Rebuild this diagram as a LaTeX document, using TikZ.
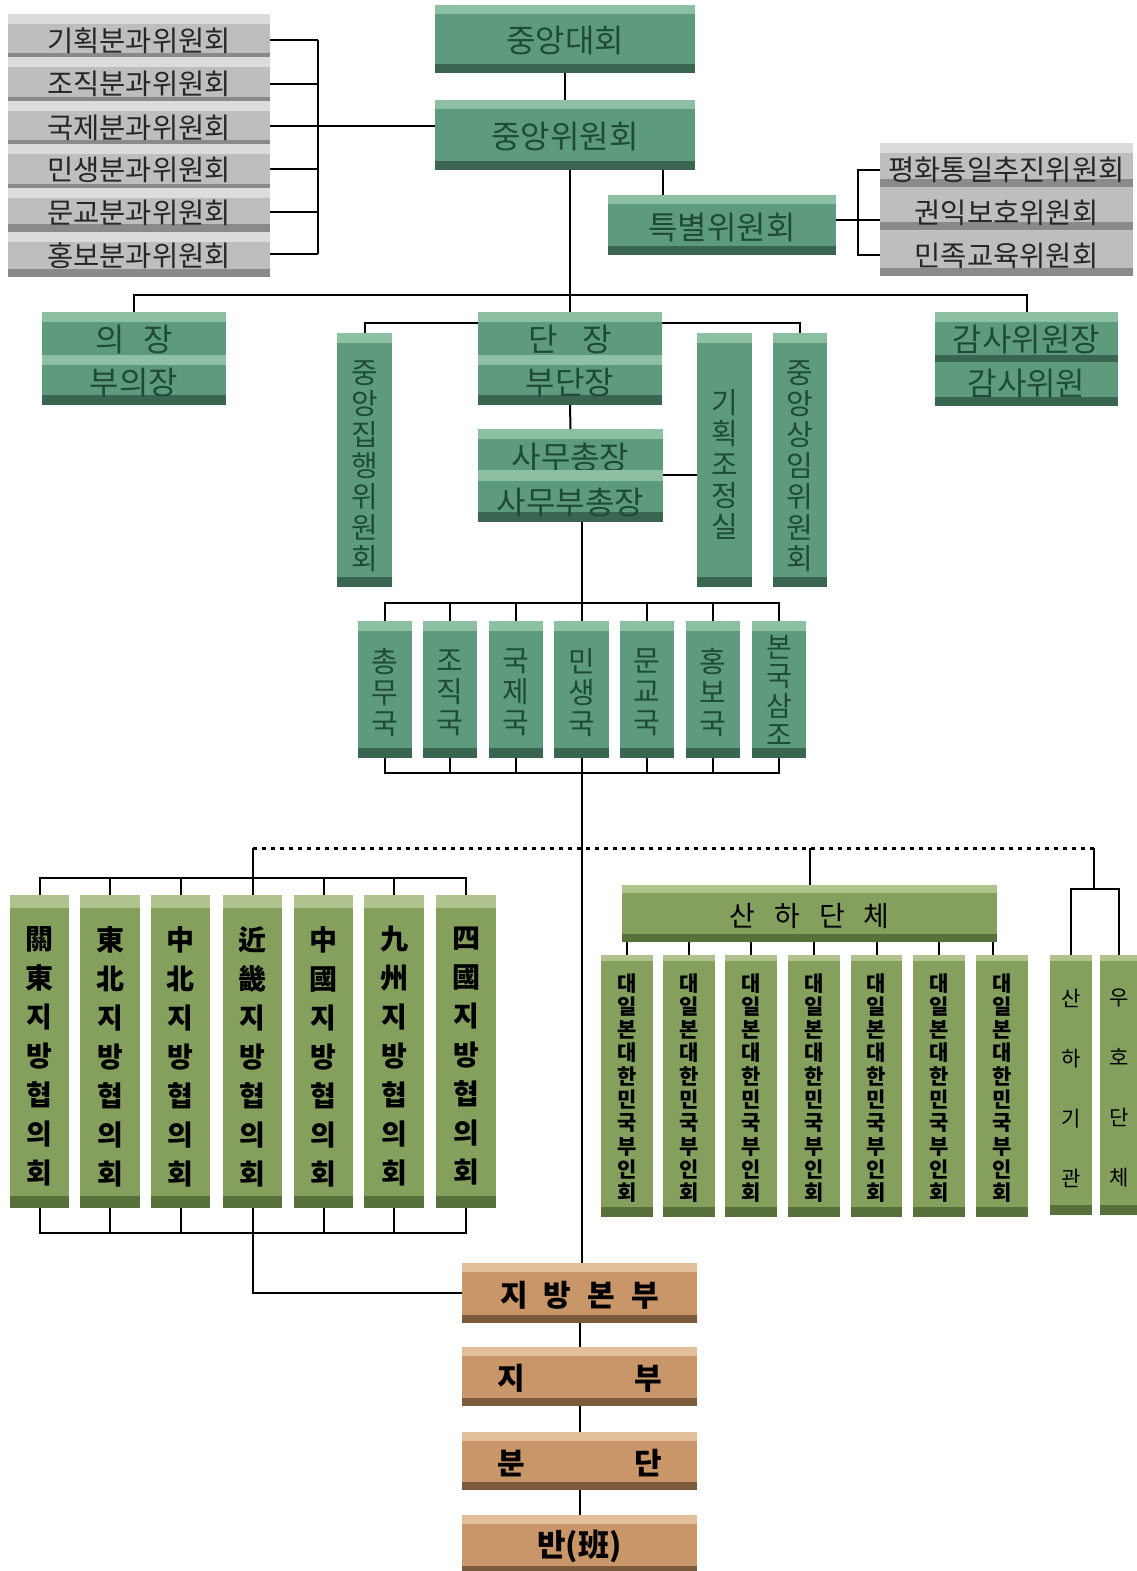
\documentclass[tikz,border=0pt]{standalone}
\usepackage{fontspec}
\newfontfamily\kr{Noto Sans CJK KR}
\usetikzlibrary{calc}
\definecolor{gbody}{HTML}{5E9B7E}
\definecolor{gtop}{HTML}{8DBFA3}
\definecolor{gbot}{HTML}{3A6651}
\definecolor{gtext}{HTML}{1F4A36}
\definecolor{ybody}{HTML}{BEBEBE}
\definecolor{ytop}{HTML}{DCDCDC}
\definecolor{ybot}{HTML}{8A8A8A}
\definecolor{obody}{HTML}{859F5D}
\definecolor{otop}{HTML}{B0C38E}
\definecolor{obot}{HTML}{58703C}
\definecolor{tbody}{HTML}{C89668}
\definecolor{ttop}{HTML}{E3C09A}
\definecolor{tbot}{HTML}{7B5B3B}
\def\tbh{10pt}\def\bbh{10pt}
\tikzset{
  topband/.code={\def\tbh{#1}},
  botband/.code={\def\bbh{#1}},
  tbox/.style={rectangle, inner sep=0pt, outer sep=0pt, fill=#1body,
    path picture={
      \fill[#1top] (path picture bounding box.north west) rectangle ([yshift=-\tbh]path picture bounding box.north east);
      \fill[#1bot] (path picture bounding box.south west) rectangle ([yshift=\bbh]path picture bounding box.south east);}},
  gb/.style={tbox=g},
  yb/.style={tbox=y},
  ob/.style={tbox=o},
  tb/.style={tbox=t, topband=9pt, botband=8pt},
  dn/.style={yshift=-#1pt},
  lbl/.style={inner sep=0pt, align=center},
  gt/.style={lbl, text=gtext, font=\kr\fontsize{32}{36}\selectfont},
  gvt/.style={lbl, text=gtext, font=\kr\fontsize{29}{31}\selectfont},
  yt/.style={lbl, text=black!85, font=\kr\fontsize{28.5}{32}\selectfont},
  ot/.style={lbl, text=black, font=\kr\bfseries\fontsize{28}{39}\selectfont},
  owt/.style={lbl, text=black, font=\kr\bfseries\fontsize{21}{23.3}\selectfont},
  ost/.style={lbl, text=black, font=\kr\fontsize{21}{60}\selectfont},
  tt/.style={lbl, text=black, font=\kr\bfseries\fontsize{30}{34}\selectfont},
  conn/.style={draw=black, line width=2pt},
  dotline/.style={draw=black, line width=3pt, dash pattern=on 4pt off 5pt},
}
% box: style, name, x1, y1, x2, y2, text style, text
\newcommand\bx[8]{%
  \node[#1, minimum width={(#5)-(#3)}, minimum height={(#6)-(#4)}] (#2) at ({((#3)+(#5))/2},{((#4)+(#6))/2}) {};
  \node[#7] (#2t) at (#2.center) {#8};}
\begin{document}
\begin{tikzpicture}[x=1pt, y=-1pt]
\useasboundingbox[fill=white] (0,0) rectangle (1136,1571);
% left grey committees
\bx{yb, topband=10pt, botband=4pt}{k1}{8}{14}{270}{57}{yt, dn=5}{기획분과위원회}
\bx{yb, topband=10pt, botband=4pt}{k2}{8}{57}{270}{101}{yt, dn=5}{조직분과위원회}
\bx{yb, topband=10pt, botband=4pt}{k3}{8}{101}{270}{144}{yt, dn=5}{국제분과위원회}
\bx{yb, topband=10pt, botband=4pt}{k4}{8}{144}{270}{188}{yt, dn=4}{민생분과위원회}
\bx{yb, topband=10pt, botband=8pt}{k5}{8}{188}{270}{232}{yt, dn=3}{문교분과위원회}
\bx{yb, topband=10pt, botband=8pt}{k6}{8}{232}{270}{277}{yt, dn=1}{홍보분과위원회}
% top green
\bx{gb, topband=9pt, botband=9pt}{cd}{435}{5}{695}{73}{gt, dn=2}{중앙대회}
\bx{gb, topband=9pt, botband=9pt}{cw}{435}{100}{695}{170}{gt, dn=2}{중앙위원회}
\bx{gb, topband=9pt, botband=9pt}{sp}{608}{195}{836}{255}{gt, dn=3}{특별위원회}
% right grey
\bx{yb, topband=10pt, botband=8pt}{r1}{880}{143}{1133}{187}{yt, dn=5}{평화통일추진위원회}
\bx{yb, topband=0pt, botband=8pt}{r2}{880}{187}{1133}{230}{yt, dn=4}{권익보호위원회}
\bx{yb, topband=0pt, botband=8pt}{r3}{880}{230}{1133}{276}{yt, dn=3}{민족교육위원회}
% chair rows
\bx{gb, topband=10pt, botband=0pt}{uj1}{42}{312}{226}{355}{gt, dn=6}{의\hspace{19pt}장}
\bx{gb, topband=10pt, botband=10pt}{uj2}{42}{355}{226}{405}{gt, dn=3}{부의장}
\bx{gb, topband=10pt, botband=0pt}{dj1}{478}{312}{662}{355}{gt, dn=6}{단\hspace{25pt}장}
\bx{gb, topband=10pt, botband=10pt}{dj2}{478}{355}{662}{405}{gt, dn=3}{부단장}
\bx{gb, topband=10pt, botband=7pt}{gs1}{935}{312}{1118}{362}{gt, dn=3}{감사위원장}
\bx{gb, topband=0pt, botband=9pt}{gs2}{935}{362}{1118}{406}{gt, dn=0}{감사위원}
% vertical green
\bx{gb}{jh}{337}{333}{392}{587}{gvt, dn=6}{중\\앙\\집\\행\\위\\원\\회}
\bx{gb}{gj}{697}{333}{752}{587}{gvt, dn=4}{기\\획\\조\\정\\실}
\bx{gb}{sm}{773}{333}{827}{587}{gvt, dn=6}{중\\앙\\상\\임\\위\\원\\회}
\bx{gb, topband=10pt, botband=0pt}{sa1}{478}{429}{663}{470}{gt, dn=8}{사무총장}
\bx{gb, topband=11pt, botband=10pt}{sa2}{478}{470}{663}{522}{gt, dn=6}{사무부총장}
% departments
\bx{gb}{d1}{358}{621}{412}{758}{gvt, dn=3}{총\\무\\국}
\bx{gb}{d2}{423}{621}{477}{758}{gvt, dn=3}{조\\직\\국}
\bx{gb}{d3}{489}{621}{543}{758}{gvt, dn=3}{국\\제\\국}
\bx{gb}{d4}{554}{621}{609}{758}{gvt, dn=3}{민\\생\\국}
\bx{gb}{d5}{620}{621}{674}{758}{gvt, dn=3}{문\\교\\국}
\bx{gb}{d6}{686}{621}{740}{758}{gvt, dn=3}{홍\\보\\국}
\bx{gb}{d7}{752}{621}{806}{758}{gvt, font=\kr\fontsize{28}{29.5}\selectfont, dn=1}{본\\국\\삼\\조}
% regional councils
\bx{ob, topband=13pt, botband=12pt}{o1}{10}{895}{69}{1208}{ot, dn=5}{關\\東\\지\\방\\협\\의\\회}
\bx{ob, topband=13pt, botband=12pt}{o2}{80}{895}{140}{1208}{ot, dn=5}{東\\北\\지\\방\\협\\의\\회}
\bx{ob, topband=13pt, botband=12pt}{o3}{151}{895}{210}{1208}{ot, dn=5}{中\\北\\지\\방\\협\\의\\회}
\bx{ob, topband=13pt, botband=12pt}{o4}{223}{895}{282}{1208}{ot, dn=5}{近\\畿\\지\\방\\협\\의\\회}
\bx{ob, topband=13pt, botband=12pt}{o5}{294}{895}{353}{1208}{ot, dn=5}{中\\國\\지\\방\\협\\의\\회}
\bx{ob, topband=13pt, botband=12pt}{o6}{364}{895}{424}{1208}{ot, dn=5}{九\\州\\지\\방\\협\\의\\회}
\bx{ob, topband=13pt, botband=12pt}{o7}{436}{895}{496}{1208}{ot, dn=5}{四\\國\\지\\방\\협\\의\\회}
% affiliated
\bx{ob, topband=8pt, botband=8pt}{sh}{622}{885}{997}{942}{lbl, text=black, font=\kr\fontsize{28}{32}\selectfont, dn=3}{산\hspace{19pt}하\hspace{19pt}단\hspace{19pt}체}
\bx{ob, topband=6pt, botband=10pt}{w1}{601}{955}{653}{1217}{owt, dn=2}{대\\일\\본\\대\\한\\민\\국\\부\\인\\회}
\bx{ob, topband=6pt, botband=10pt}{w2}{663}{955}{715}{1217}{owt, dn=2}{대\\일\\본\\대\\한\\민\\국\\부\\인\\회}
\bx{ob, topband=6pt, botband=10pt}{w3}{725}{955}{777}{1217}{owt, dn=2}{대\\일\\본\\대\\한\\민\\국\\부\\인\\회}
\bx{ob, topband=6pt, botband=10pt}{w4}{788}{955}{840}{1217}{owt, dn=2}{대\\일\\본\\대\\한\\민\\국\\부\\인\\회}
\bx{ob, topband=6pt, botband=10pt}{w5}{851}{955}{902}{1217}{owt, dn=2}{대\\일\\본\\대\\한\\민\\국\\부\\인\\회}
\bx{ob, topband=6pt, botband=10pt}{w6}{913}{955}{965}{1217}{owt, dn=2}{대\\일\\본\\대\\한\\민\\국\\부\\인\\회}
\bx{ob, topband=6pt, botband=10pt}{w7}{976}{955}{1028}{1217}{owt, dn=2}{대\\일\\본\\대\\한\\민\\국\\부\\인\\회}
\bx{ob, topband=6pt, botband=10pt}{sg}{1050}{955}{1092}{1215}{ost, dn=3}{산\\하\\기\\관}
\bx{ob, topband=6pt, botband=10pt}{wh}{1100}{955}{1138}{1215}{ost, dn=3}{우\\호\\단\\체}
% local organisation
\bx{tb}{jb}{462}{1263}{697}{1323}{tt, dn=2}{지\hspace{16pt}방\hspace{16pt}본\hspace{16pt}부}
\bx{tb}{ju}{462}{1347}{697}{1406}{tt, dn=2}{지\hspace{109pt}부}
\bx{tb}{bd}{462}{1432}{697}{1490}{tt, dn=2}{분\hspace{109pt}단}
\bx{tb}{ban}{462}{1515}{697}{1574}{tt, font=\kr\bfseries\fontsize{31}{34}\selectfont, dn=2}{반(班)}
% ---------- connectors
\coordinate (ks) at (318,0);
\foreach \i/\yy in {1/40,2/84,3/126,4/169,5/212,6/254} {\draw[conn] (k\i.east |- 0,\yy) -- (ks |- 0,\yy);}
\draw[conn] (ks |- 0,40) -- (ks |- 0,254);
\draw[conn] (k3.east |- 0,126) -- (cw.west |- 0,126);
\draw[conn] (cd.south) -- (cw.north);
\coordinate (tx) at (663,0);
\draw[conn] (cw.south -| tx) -- (sp.north -| tx);
\coordinate (rs) at (858,0);
\draw[conn] (r1.west |- 0,170) -- (rs |- 0,170) -- (rs |- 0,255) -- (r3.west |- 0,255);
\draw[conn] (sp.east |- 0,220) -- (r2.west |- 0,220);
\coordinate (hb) at (0,295);
\draw[conn] (cw.south -| dj1.north) -- (dj1.north);
\draw[conn] (uj1.north) -- (uj1.north |- hb) -- (gs1.north |- hb) -- (gs1.north);
\coordinate (jy) at (0,323);
\draw[conn] (dj1.west |- jy) -| (jh.north);
\draw[conn] (dj1.east |- jy) -| (sm.north);
\draw[conn] (dj2.south) -- (sa1.north);
\coordinate (gy) at (0,475);
\draw[conn] (sa2.east |- gy) -- (gj.west |- gy);
\coordinate (dt) at (0,603);
\coordinate (db) at (0,773);
\draw[conn] (sa2.south -| d4.north) -- (d4.north);
\draw[conn] (d1.north) -- (d1.north |- dt) -- (d7.north |- dt) -- (d7.north);
\draw[conn] (d1.south) -- (d1.south |- db) -- (d7.south |- db) -- (d7.south);
\foreach \i in {2,3,5,6} {\draw[conn] (d\i.north) -- (d\i.north |- dt); \draw[conn] (d\i.south) -- (d\i.south |- db);}
\draw[conn] (d4.south) -- (d4.south |- jb.north);
% lower section
\coordinate (dy) at (0,848);
\coordinate (uf) at (1094,0);
\coordinate (uy) at (0,889);
\draw[dotline] (o4.north |- dy) -- (uf |- dy);
\draw[conn] (uf |- dy) -- (uf |- uy);
\draw[conn] (sg.north) -- (sg.north |- uy) -- (wh.north |- uy) -- (wh.north);
\draw[conn] (o4.north |- dy) -- (o4.north);
\coordinate (ot) at (0,878);
\coordinate (ob) at (0,1233);
\draw[conn] (o1.north) -- (o1.north |- ot) -- (o7.north |- ot) -- (o7.north);
\draw[conn] (o1.south) -- (o1.south |- ob) -- (o7.south |- ob) -- (o7.south);
\foreach \i in {2,3,5,6} {\draw[conn] (o\i.north) -- (o\i.north |- ot); \draw[conn] (o\i.south) -- (o\i.south |- ob);}
\draw[conn] (o4.south) |- (jb.west);
\draw[conn] (sh.north |- dy) -- (sh.north);
\foreach \i in {1,...,6} {\draw[conn] (w\i.north |- sh.south) -- (w\i.north);}
\draw[conn] ([xshift=-9pt]w7.north |- sh.south) -- ([xshift=-9pt]w7.north);
\draw[conn] (jb.south) -- (ju.north);
\draw[conn] (ju.south) -- (bd.north);
\draw[conn] (bd.south) -- (ban.north);
\end{tikzpicture}
\end{document}
